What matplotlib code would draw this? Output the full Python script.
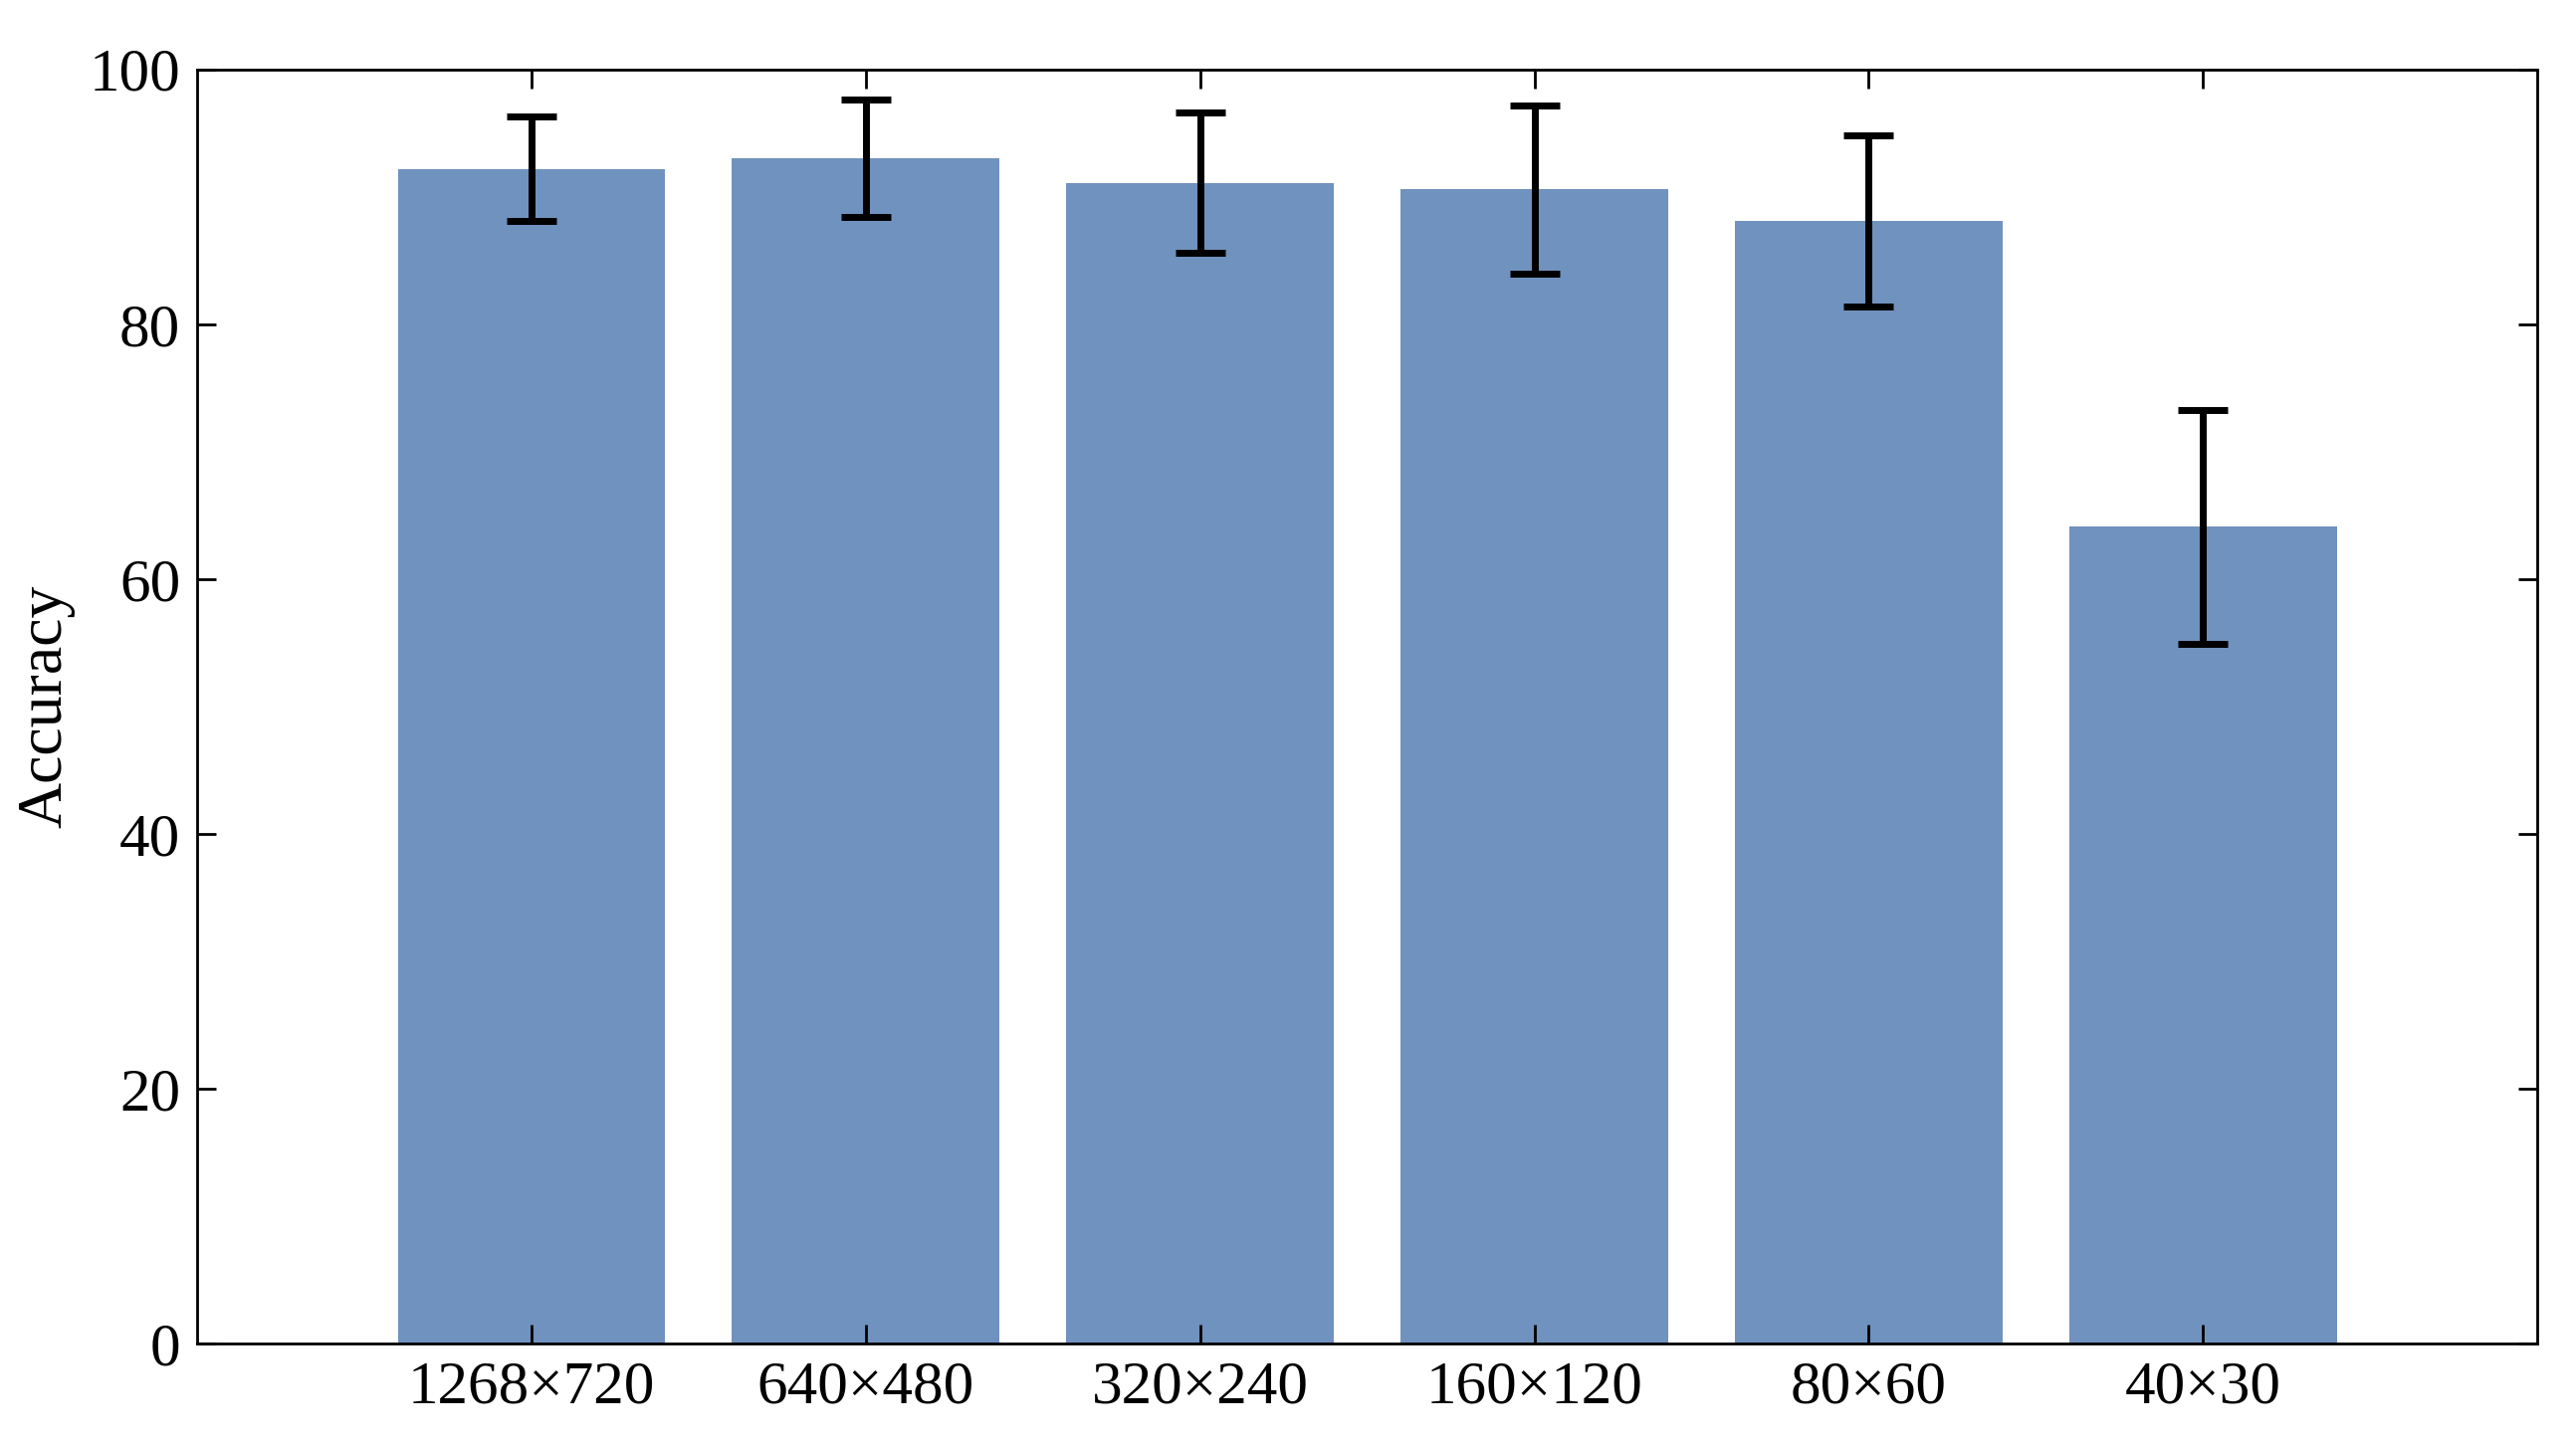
import matplotlib
matplotlib.use("Agg")
from matplotlib import pyplot as plt

labels = ["1268×720", "640×480", "320×240", "160×120", "80×60", "40×30"]
accuracy = [92.2, 93.0, 91.1, 90.6, 88.1, 64.1]
errors = [4.1, 4.6, 5.5, 6.6, 6.7, 9.2]

plt.rcParams['font.family'] = ['Liberation Serif', 'DejaVu Serif']

fig = plt.figure(figsize=(25.88, 14.52), dpi=100)
ax = fig.add_axes([0.0765, 0.07, 0.9085, 0.882])

x = range(len(labels))
ax.bar(x, accuracy, width=0.8, color="#7092be")
ax.errorbar(x, accuracy, yerr=errors, fmt="none", ecolor="black",
            elinewidth=5, capsize=18, capthick=5)

ax.set_xlim(-1, 6)
ax.set_ylim(0, 100)
ax.set_xticks(list(x))
ax.set_xticklabels(labels)
ax.set_yticks([0, 20, 40, 60, 80, 100])
ax.tick_params(direction="in", top=True, right=True, labelsize=44,
               length=14, width=2, pad=12)
for s in ax.spines.values():
    s.set_linewidth(2)
ax.set_ylabel("Accuracy", fontsize=46, labelpad=10)

fig.savefig("out.png")
